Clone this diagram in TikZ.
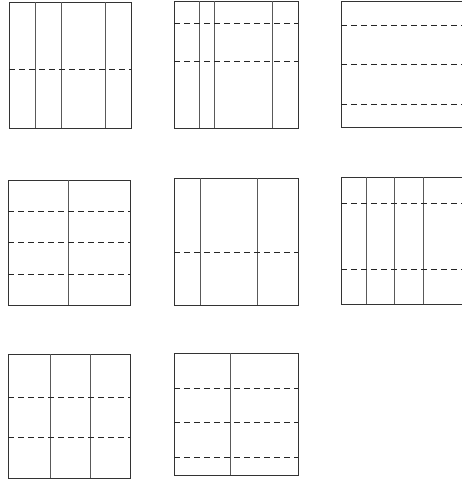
\documentclass[tikz,border=0pt]{standalone}
\usepackage{tikz}

\begin{document}
\begin{tikzpicture}[
    x=1pt, y=-1pt,
    frame/.style={draw=black!80, line width=1pt},
    fold/.style={draw=black!65, line width=0.7pt},
    crease/.style={draw=black!85, line width=0.9pt, dash pattern=on 6pt off 4pt}
]
    \useasboundingbox (0,0) rectangle (462,493);
    \clip (0,0) rectangle (462,493);

    % Top row
    \draw[frame] (9,2) rectangle (131,128);
    \foreach \x in {35,61,105} \draw[fold] (\x,2) -- (\x,128);
    \draw[crease] (9,69) -- (131,69);

    \draw[frame] (174,1) rectangle (298,128);
    \foreach \x in {199,214,272} \draw[fold] (\x,1) -- (\x,128);
    \foreach \y in {23,61} \draw[crease] (174,\y) -- (298,\y);

    \draw[frame] (470,1) -- (341,1) -- (341,127) -- (470,127);
    \foreach \y in {25,64,104} \draw[crease] (341,\y) -- (470,\y);

    % Middle row
    \draw[frame] (8,180) rectangle (130,305);
    \draw[fold] (68,180) -- (68,305);
    \foreach \y in {211,242,274} \draw[crease] (8,\y) -- (130,\y);

    \draw[frame] (174,178) rectangle (298,305);
    \foreach \x in {200,257} \draw[fold] (\x,178) -- (\x,305);
    \draw[crease] (174,252) -- (298,252);

    \draw[frame] (470,177) -- (341,177) -- (341,304) -- (470,304);
    \foreach \x in {366,394,423} \draw[fold] (\x,177) -- (\x,304);
    \foreach \y in {203,269} \draw[crease] (341,\y) -- (470,\y);

    % Bottom row
    \draw[frame] (8,354) rectangle (130,478);
    \foreach \x in {50,90} \draw[fold] (\x,354) -- (\x,478);
    \foreach \y in {397,437} \draw[crease] (8,\y) -- (130,\y);

    \draw[frame] (174,353) rectangle (298,475);
    \draw[fold] (230,353) -- (230,475);
    \foreach \y in {388,422,457} \draw[crease] (174,\y) -- (298,\y);
\end{tikzpicture}
\end{document}
